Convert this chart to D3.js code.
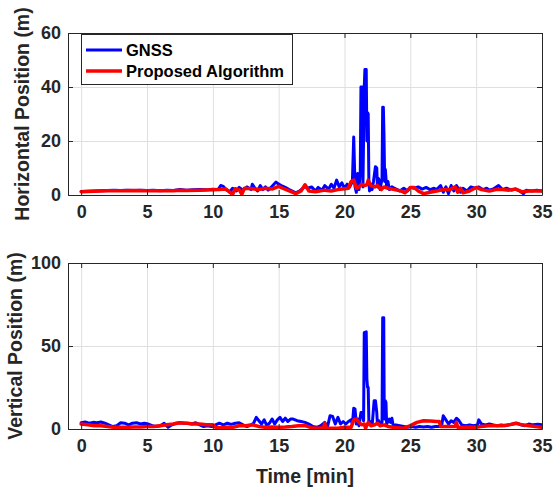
<!DOCTYPE html>
<html><head><meta charset="utf-8">
<script src="https://cdn.jsdelivr.net/npm/d3@7"></script>
<style>
body{margin:0;background:#fff;}
svg{display:block;font-family:"Liberation Sans",Arial,Helvetica,sans-serif;font-weight:bold;}
</style></head>
<body><svg id="chart" width="553" height="488"></svg>
<script>
// ---------- data ----------
const xTicks = [0,5,10,15,20,25,30,35];
const hTicks = [0,20,40,60];
const vTicks = [0,50,100];
const seriesNames = ["GNSS","Proposed Algorithm"];
const seriesColors = ["#0000ff","#ff0000"];

const gnssH = [[0,1.3],[0.5,1.4],[1,1.5],[1.5,1.6],[2,1.7],[2.5,1.8],[3,1.7],[3.5,1.8],[4,1.7],[4.5,1.8],[5,1.7],[5.5,1.8],[6,1.6],[6.5,1.8],[7,1.7],[7.5,2.0],[8,1.8],[8.5,1.9],[9,2.0],[9.5,1.9],[10,2.1],[10.4,2.0],[10.6,3.5],[10.8,3.2],[11,2.0],[11.3,1.2],[11.5,2.5],[11.8,1.5],[12,2.8],[12.3,1.8],[12.6,3.0],[12.9,2.0],[13.0,4.0],[13.2,2.5],[13.4,1.5],[13.6,3.5],[13.8,2.0],[14.0,3.0],[14.2,1.8],[14.5,3.2],[14.8,4.8],[15.0,4.0],[15.2,3.5],[15.5,2.8],[15.8,2.0],[16.0,1.5],[16.3,0.8],[16.6,1.5],[17.0,3.2],[17.2,2.5],[17.5,3.0],[17.8,1.5],[18.0,2.8],[18.3,1.8],[18.5,3.5],[18.8,2.2],[19.0,4.0],[19.2,2.5],[19.4,5.5],[19.6,3.0],[19.8,4.5],[20.0,2.5],[20.2,4.0],[20.4,3.0],[20.6,5.0],[20.7,21.5],[20.8,3.0],[20.9,1.0],[21.0,8.0],[21.1,2.0],[21.2,9.0],[21.25,40],[21.35,40],[21.4,3],[21.5,40],[21.55,46.5],[21.65,46.5],[21.7,20],[21.75,30.5],[21.8,30],[21.85,5],[21.9,1.5],[22.0,4],[22.1,2],[22.2,5],[22.35,10.5],[22.45,10],[22.5,3],[22.6,6],[22.7,2],[22.85,6],[22.9,32.5],[22.95,32.5],[23.0,22],[23.05,5],[23.1,9.5],[23.2,3],[23.3,5],[23.4,2],[23.6,3],[23.8,2.5],[24.0,2],[24.2,1.5],[24.5,2.5],[24.8,1.5],[25.0,2.8],[25.3,2.5],[25.6,3.0],[25.9,2.2],[26.2,2.8],[26.5,2.0],[26.8,2.5],[27.0,2.0],[27.3,3.5],[27.5,1.0],[27.7,3.0],[27.9,0.5],[28.1,3.5],[28.3,1.5],[28.5,3.5],[28.8,1.0],[29.0,2.5],[29.3,1.5],[29.6,3.0],[29.9,2.5],[30.2,3.0],[30.5,2.0],[30.8,2.5],[31.0,1.8],[31.3,2.2],[31.7,3.5],[32.0,2.0],[32.3,2.5],[32.7,1.8],[33.0,2.2],[33.3,1.5],[33.6,0.5],[33.8,1.8],[34.2,1.5],[34.6,1.8],[35,1.5]];

const propH = [[0,1.2],[1,1.4],[2,1.6],[3,1.6],[4,1.7],[5,1.6],[6,1.6],[7,1.6],[7.5,1.8],[8,1.7],[9,1.8],[10,1.9],[10.5,2.0],[11,2.2],[11.3,1.0],[11.5,0.2],[11.7,2.3],[12.0,2.0],[12.2,0.3],[12.4,2.5],[13,2.3],[13.5,2.0],[14,2.5],[14.5,2.2],[15,3.2],[15.3,2.5],[15.8,1.5],[16.3,0.5],[16.7,1.5],[17.0,3.8],[17.3,1.5],[17.8,1.2],[18.5,1.8],[19,1.5],[19.5,2.0],[20,2.3],[20.3,2.5],[20.5,5.0],[20.7,5.5],[20.9,2.5],[21.1,3.0],[21.3,4.0],[21.5,3.5],[21.7,3.8],[21.8,5.5],[22.0,3.5],[22.3,3.0],[22.5,3.5],[22.8,2.0],[23.0,3.0],[23.3,2.5],[23.8,2.0],[24.3,1.5],[24.6,0.8],[25.0,2.8],[25.3,2.8],[25.6,1.5],[26.0,0.5],[26.5,1.0],[27.0,1.5],[27.5,2.0],[28.0,2.0],[28.4,3.0],[28.6,1.0],[28.8,2.5],[29.0,0.8],[29.5,1.5],[30.0,2.8],[30.4,2.0],[31.0,1.5],[31.5,2.0],[32.0,2.0],[32.5,1.8],[33.0,2.2],[33.5,1.2],[34.0,1.5],[35,1.5]];

const gnssV = [[0,3.8],[0.3,4.2],[0.6,3.5],[0.9,4.0],[1.2,3.8],[1.5,4.2],[1.8,3.5],[2.1,2.5],[2.4,1.5],[2.7,2.0],[3.0,3.8],[3.3,3.5],[3.6,2.5],[3.9,3.5],[4.2,3.8],[4.5,3.0],[4.8,3.5],[5.1,3.0],[5.4,2.0],[5.7,1.5],[6.0,2.0],[6.3,3.5],[6.6,1.0],[6.9,2.5],[7.2,3.5],[7.5,3.8],[7.8,3.5],[8.1,3.5],[8.4,3.0],[8.7,3.8],[9.0,2.5],[9.3,1.5],[9.6,2.0],[9.9,1.5],[10.2,2.5],[10.5,3.5],[10.8,2.5],[11.1,3.5],[11.4,2.8],[11.7,3.5],[12.0,3.8],[12.3,2.5],[12.6,1.5],[12.9,2.5],[13.1,3.5],[13.3,7.0],[13.5,5.0],[13.7,3.0],[13.9,5.5],[14.1,2.0],[14.3,3.5],[14.5,6.0],[14.7,3.0],[14.9,5.5],[15.1,7.0],[15.3,4.5],[15.5,6.5],[15.7,4.5],[15.9,6.0],[16.1,6.0],[16.4,5.0],[16.7,4.5],[17.0,4.0],[17.3,3.0],[17.6,1.5],[17.9,1.0],[18.2,2.0],[18.5,4.0],[18.7,1.0],[18.9,8.0],[19.1,7.5],[19.3,3.0],[19.5,7.0],[19.7,3.0],[19.9,4.5],[20.1,3.0],[20.3,4.5],[20.5,5.5],[20.6,3.0],[20.7,12.5],[20.8,12],[20.9,3],[21.0,6],[21.1,2],[21.25,10],[21.35,10],[21.45,5],[21.5,58],[21.65,58.5],[21.7,30],[21.75,25],[21.8,25],[21.85,5],[22.0,4],[22.1,2],[22.25,17],[22.35,17],[22.45,10],[22.5,3],[22.6,5],[22.7,2],[22.85,4],[22.9,67],[22.98,67],[23.02,6],[23.1,17],[23.15,16],[23.2,3],[23.4,6],[23.5,4],[23.6,6.5],[23.7,2],[23.9,2.5],[24.2,2.0],[24.5,1.5],[24.8,1.0],[25.1,1.5],[25.4,1.0],[25.7,1.5],[26.0,1.2],[26.3,1.5],[26.6,1.0],[26.9,1.5],[27.2,1.5],[27.4,3.0],[27.5,8.0],[27.7,5.5],[27.9,3.0],[28.1,5.0],[28.3,4.0],[28.5,6.5],[28.7,5.0],[28.9,2.5],[29.2,2.0],[29.5,2.5],[29.8,2.0],[30.1,2.5],[30.2,5.5],[30.4,3.0],[30.7,2.5],[31.0,3.0],[31.3,2.5],[31.6,2.0],[31.9,2.5],[32.2,2.0],[32.5,2.5],[32.8,3.0],[33.1,3.5],[33.4,2.5],[33.7,2.0],[34.0,3.0],[34.3,2.5],[34.7,2.8],[35,2.5]];

const propV = [[0,3.0],[0.5,2.5],[1,2.0],[1.5,2.0],[2,1.5],[2.5,1.0],[3,1.0],[3.5,1.0],[4,1.2],[4.5,1.2],[5,1.5],[5.5,1.5],[6,2.0],[6.5,2.5],[7,3.0],[7.5,3.8],[8,3.5],[8.5,3.0],[9,3.0],[9.5,2.5],[10,2.5],[10.2,1.0],[10.5,0.8],[11,1.0],[11.5,1.0],[12,2.0],[12.5,2.0],[13,2.5],[13.5,1.5],[14,1.0],[14.5,1.2],[15,1.0],[15.5,1.2],[16,1.5],[16.5,2.0],[17,2.0],[17.5,0.8],[18,0.5],[18.4,0.8],[18.5,3.5],[18.6,0.5],[19,0.5],[19.5,0.5],[20,1.0],[20.5,1.0],[20.7,5.5],[20.9,6.0],[21.1,4.0],[21.3,2.5],[21.5,3.0],[21.6,0.5],[21.8,4.0],[22.0,2.0],[22.3,2.5],[22.5,3.5],[22.7,2.0],[23.0,2.5],[23.3,1.5],[23.7,1.0],[24.0,0.8],[24.5,0.5],[25.0,2.0],[25.5,4.0],[26.0,5.0],[26.5,4.8],[27.0,4.5],[27.2,4.5],[27.3,1.5],[28.0,1.5],[28.4,1.5],[28.5,4.0],[28.6,1.0],[29,1.0],[29.5,1.2],[30,1.0],[30.3,1.5],[31,2.0],[31.5,2.0],[32,2.0],[32.5,2.5],[33,3.5],[33.5,2.5],[34,2.0],[34.5,1.5],[35,1.0]];

// ---------- layout ----------
const svg = d3.select("#chart");
const L = 68, R = 542;
const panels = [
  {top:33, bottom:195, yMax:60, ticks:hTicks, series:[gnssH, propH], label:"Horizontal Position (m)", labelX:22, legend:true},
  {top:263, bottom:429, yMax:100, ticks:vTicks, series:[gnssV, propV], label:"Vertical Position (m)", labelX:15, legend:false}
];
const frameColor = "#262626";

panels.forEach((p, i) => {
  const x = d3.scaleLinear().domain([-1, 35]).range([L, R]);
  const y = d3.scaleLinear().domain([0, p.yMax]).range([p.bottom, p.top]);
  const g = svg.append("g");
  const W = R - L, H = p.bottom - p.top;

  // grid
  g.append("g").attr("transform", `translate(0,${p.bottom})`)
    .call(d3.axisBottom(x).tickValues(xTicks).tickSize(-H).tickFormat(""))
    .call(s => { s.select(".domain").remove(); s.selectAll("line").attr("stroke","#dfdfdf").attr("stroke-width",1); });
  g.append("g").attr("transform", `translate(${L},0)`)
    .call(d3.axisLeft(y).tickValues(p.ticks).tickSize(-W).tickFormat(""))
    .call(s => { s.select(".domain").remove(); s.selectAll("line").attr("stroke","#dfdfdf").attr("stroke-width",1); });

  // lines
  const clipId = "clip" + i;
  svg.append("clipPath").attr("id", clipId).append("rect")
    .attr("x", L).attr("y", p.top).attr("width", W).attr("height", H);
  const line = d3.line().x(d => x(d[0])).y(d => y(d[1]));
  p.series.forEach((s, k) => {
    g.append("path").datum(s).attr("d", line)
      .attr("clip-path", `url(#${clipId})`)
      .attr("fill","none").attr("stroke", seriesColors[k])
      .attr("stroke-width", k === 0 ? 3 : 3.5)
      .attr("stroke-linejoin","round").attr("stroke-linecap","round");
  });

  // axes with inward ticks
  const styleAxis = s => {
    s.select(".domain").attr("stroke", frameColor);
    s.selectAll(".tick line").attr("stroke", frameColor);
    s.selectAll("text").attr("fill", frameColor).attr("font-size", 18).attr("font-weight","bold")
      .attr("font-family", "'Liberation Sans',Arial,sans-serif");
  };
  g.append("g").attr("transform", `translate(0,${p.bottom})`)
    .call(d3.axisBottom(x).tickValues(xTicks).tickSizeInner(-5).tickSizeOuter(0).tickPadding(10))
    .call(styleAxis);
  g.append("g").attr("transform", `translate(0,${p.top})`)
    .call(d3.axisTop(x).tickValues(xTicks).tickSizeInner(-5).tickSizeOuter(0).tickFormat(""))
    .call(styleAxis);
  g.append("g").attr("transform", `translate(${L},0)`)
    .call(d3.axisLeft(y).tickValues(p.ticks).tickSizeInner(-5).tickSizeOuter(0).tickPadding(7))
    .call(styleAxis);
  g.append("g").attr("transform", `translate(${R},0)`)
    .call(d3.axisRight(y).tickValues(p.ticks).tickSizeInner(-5).tickSizeOuter(0).tickFormat(""))
    .call(styleAxis);

  // y label
  g.append("text")
    .attr("transform", `translate(${p.labelX},${(p.top + p.bottom) / 2}) rotate(-90)`)
    .attr("text-anchor","middle").attr("dominant-baseline","central")
    .attr("font-size", 19.5).attr("fill", frameColor).text(p.label);

  if (p.legend) {
    const lg = g.append("g");
    lg.append("rect").attr("x", 81.5).attr("y", 34.5).attr("width", 211).attr("height", 50)
      .attr("fill","#fff").attr("stroke", frameColor).attr("stroke-width", 1);
    seriesNames.forEach((n, k) => {
      const yy = 50 + k * 21;
      lg.append("line").attr("x1", 86).attr("x2", 122).attr("y1", yy).attr("y2", yy)
        .attr("stroke", seriesColors[k]).attr("stroke-width", k === 0 ? 3 : 3.5);
      lg.append("text").attr("x", 126).attr("y", yy).attr("dominant-baseline","central")
        .attr("font-size", 16.5).attr("fill", "#000").text(n);
    });
  }
});

// x label
svg.append("text").attr("x", (L + R) / 2).attr("y", 476)
  .attr("text-anchor","middle").attr("dominant-baseline","central")
  .attr("font-size", 19.5).attr("fill", frameColor).text("Time [min]");
</script></body></html>
